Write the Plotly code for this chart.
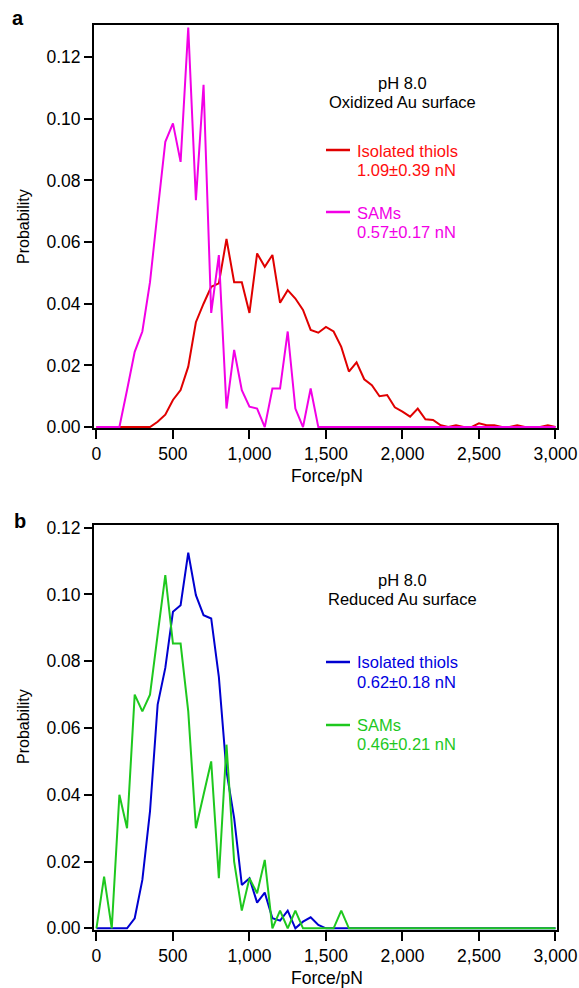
import plotly.graph_objects as go

W, H = 579, 988

force = list(range(0, 3001, 50))

# Panel a: pH 8.0, oxidized Au surface
a_isolated = [0, 0, 0, 0, 0, 0, 0, 0,
              0.0017, 0.004, 0.0088, 0.012, 0.0196, 0.034, 0.040, 0.0455, 0.0466, 0.061,
              0.047, 0.047, 0.037, 0.0563, 0.052, 0.0558, 0.0403, 0.0444, 0.0417, 0.038,
              0.0315, 0.0306, 0.0325, 0.031, 0.026, 0.018, 0.021, 0.0155, 0.0136, 0.010,
              0.0104, 0.0064, 0.005, 0.0034, 0.006, 0.0025, 0.0023, 0.0006, 0, 0.0006,
              0, 0, 0.0012, 0.0006, 0.0006, 0, 0, 0.0006, 0, 0, 0, 0.0006, 0]
a_sams = [0, 0, 0, 0, 0.012, 0.0244, 0.031, 0.047, 0.070, 0.0925, 0.0985, 0.086,
          0.1296, 0.0736, 0.111, 0.037, 0.0558, 0.006, 0.025, 0.012, 0.0066, 0.006,
          0, 0.0125, 0.0125, 0.031, 0.006, 0, 0.0125, 0] + [0] * 31

# Panel b: pH 8.0, reduced Au surface
b_isolated = [0, 0, 0, 0, 0, 0.003, 0.0145, 0.035, 0.067, 0.078, 0.0948, 0.0968,
              0.1125, 0.0998, 0.0938, 0.0928, 0.0753, 0.047, 0.033, 0.013, 0.015,
              0.0077, 0.0107, 0.003, 0.0023, 0.0053, 0, 0.002, 0.0033, 0.001] + [0] * 31
b_sams = [0, 0.0155, 0, 0.040, 0.030, 0.070, 0.065, 0.070, 0.088, 0.1058, 0.0853,
          0.0853, 0.065, 0.030, 0.040, 0.050, 0.015, 0.055, 0.020, 0.0053, 0.015,
          0.0105, 0.0205, 0, 0.0053, 0, 0.0053, 0, 0, 0, 0, 0, 0.0053, 0] + [0] * 27

x_ticks = [0, 500, 1000, 1500, 2000, 2500, 3000]
x_ticklabels = ["0", "500", "1,000", "1,500", "2,000", "2,500", "3,000"]
y_ticks = [0.0, 0.02, 0.04, 0.06, 0.08, 0.10, 0.12]
y_ticklabels = ["0.00", "0.02", "0.04", "0.06", "0.08", "0.10", "0.12"]

RED = "#e00000"
RED_TXT = "#ff0d0d"
MAG = "#f200e6"
BLUE = "#0000d0"
BLUE_TXT = "#0000e0"
GREEN = "#1ec81e"

FONT = "Liberation Sans, Arial, Helvetica, sans-serif"

fig = go.Figure()
fig.add_trace(go.Scatter(x=force, y=a_isolated, mode="lines", line=dict(color=RED, width=2),
                         xaxis="x", yaxis="y", showlegend=False))
fig.add_trace(go.Scatter(x=force, y=a_sams, mode="lines", line=dict(color=MAG, width=2),
                         xaxis="x", yaxis="y", showlegend=False))
fig.add_trace(go.Scatter(x=force, y=b_isolated, mode="lines", line=dict(color=BLUE, width=2),
                         xaxis="x2", yaxis="y2", showlegend=False))
fig.add_trace(go.Scatter(x=force, y=b_sams, mode="lines", line=dict(color=GREEN, width=2),
                         xaxis="x2", yaxis="y2", showlegend=False))

def px(x):
    return x / W

def py(y):
    return 1 - y / H

xdom = [px(94), px(557)]
ya_dom = [py(428), py(25)]
yb_dom = [py(930), py(525)]

common_x = dict(range=[-16, 3010], tickmode="array", tickvals=x_ticks, ticktext=x_ticklabels,
                ticks="outside", ticklen=9, tickwidth=2, tickcolor="black",
                showline=True, linecolor="black", linewidth=2, mirror=True,
                showgrid=False, zeroline=False, automargin=False,
                tickfont=dict(family=FONT, size=17.5, color="black"))
common_y = dict(tickmode="array", tickvals=y_ticks, ticktext=y_ticklabels,
                ticks="outside", ticklen=8, tickwidth=2, tickcolor="black",
                showline=True, linecolor="black", linewidth=2, mirror=True,
                showgrid=False, zeroline=False, automargin=False,
                tickfont=dict(family=FONT, size=17.5, color="black"))

fig.update_layout(
    width=W, height=H,
    margin=dict(l=0, r=0, t=0, b=0),
    paper_bgcolor="white", plot_bgcolor="white",
    xaxis=dict(domain=xdom, anchor="y", **common_x),
    yaxis=dict(domain=ya_dom, anchor="x", range=[-0.0003, 0.1304], **common_y),
    xaxis2=dict(domain=xdom, anchor="y2", **common_x),
    yaxis2=dict(domain=yb_dom, anchor="x2", range=[-0.0005, 0.1208], **common_y),
)

ann = []
def text(x, y, s, color="black", size=16.5, xanchor="left", angle=0):
    ann.append(dict(x=px(x), y=py(y), xref="paper", yref="paper", text=s, showarrow=False,
                    xanchor=xanchor, yanchor="middle", textangle=angle,
                    font=dict(family=FONT, size=size, color=color)))

# panel labels
text(18, 18, "<b>a</b>", size=20, xanchor="center")
text(20, 521, "<b>b</b>", size=20, xanchor="center")
# axis titles
text(23, 227, "Probability", size=16, xanchor="center", angle=-90)
text(23, 727, "Probability", size=16, xanchor="center", angle=-90)
text(327, 476, "Force/pN", size=17.5, xanchor="center")
text(327, 978, "Force/pN", size=17.5, xanchor="center")

# panel a annotations
text(402, 83, "pH 8.0", xanchor="center")
text(402, 102, "Oxidized Au surface", xanchor="center")
text(355, 151, "Isolated thiols", color=RED_TXT)
text(355, 170, "1.09±0.39 nN", color=RED_TXT)
text(355, 213, "SAMs", color=MAG)
text(355, 232, "0.57±0.17 nN", color=MAG)

# panel b annotations
text(402, 580, "pH 8.0", xanchor="center")
text(402, 599, "Reduced Au surface", xanchor="center")
text(355, 662, "Isolated thiols", color=BLUE_TXT)
text(355, 682, "0.62±0.18 nN", color=BLUE_TXT)
text(355, 725, "SAMs", color=GREEN)
text(355, 744, "0.46±0.21 nN", color=GREEN)

fig.update_layout(annotations=ann)

shapes = []
for (y, c) in [(150, RED), (212, MAG), (662, BLUE), (725, GREEN)]:
    shapes.append(dict(type="line", xref="paper", yref="paper", x0=px(326), x1=px(350),
                       y0=py(y), y1=py(y), line=dict(color=c, width=2.5)))
fig.update_layout(shapes=shapes)

fig.write_html("out.html", config={"displayModeBar": False},
               post_script="document.body.style.margin='0';document.body.style.padding='0';"
                           "document.documentElement.style.overflow='hidden';")
